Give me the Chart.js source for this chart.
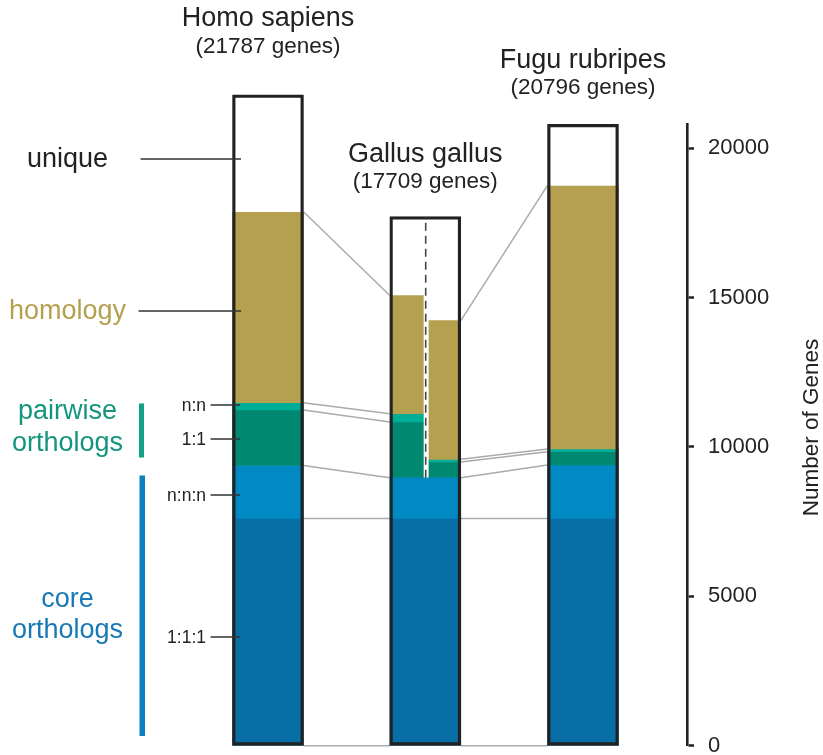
<!DOCTYPE html>
<html>
<head>
<meta charset="utf-8">
<script src="https://cdn.jsdelivr.net/npm/chart.js@4"></script>
<style>
html,body{margin:0;padding:0;background:#fff;}
canvas{display:block;}
</style>
</head>
<body>
<canvas id="genes_chart" width="823" height="755"></canvas>
<script>
//chart data
const species = ["Homo sapiens", "Gallus gallus", "Fugu rubripes"];
const total_genes = [21787, 17709, 20796];

//segments bottom to top, values are the top of each segment
const segment_names = ["1:1:1", "n:n:n", "1:1", "n:n", "homology", "unique"];
const homo_tops = [7610, 9380, 11240, 11484, 17873, 21787];
const gallus_core_tops = [7610, 8970];           //full width part of the chicken bar
const gallus_left_tops = [10840, 11116, 15069];  //1:1, n:n, homology against human
const gallus_right_tops = [9497, 9588, 14231];   //1:1, n:n, homology against fugu
const fugu_tops = [7610, 9400, 9843, 9933, 18754, 20796];

const y_ticks = [0, 5000, 10000, 15000, 20000];
const y_max = 20796;

//layout (x axis units are pixels)
const bar_x = [268, 425.3, 583];
const bar_w = 71;
const half_x = [406.7, 444.8];
const half_w = [33.3, 31.7];
const dash_x = 425.7;
const title_y = [26, 162, 68];
const sub_y = [53, 188, 94];
const side_label_y = [159, 311, 405, 439, 495, 637];

const seg_colors = ["#076fa6", "#0089c2", "#008870", "#00ad96", "#b5a04f", "#ffffff"];
const font_family = "'Liberation Sans', Arial, Helvetica, sans-serif";

Chart.defaults.font.family = font_family;
Chart.defaults.color = "#222";

const ctx = document.getElementById("genes_chart").getContext("2d");

function toRanges(tops, start) {
  let prev = start || 0;
  return tops.map(t => {
    const r = [prev, t];
    prev = t;
    return r;
  });
}

function barData(xc, tops, start) {
  return toRanges(tops, start).map(r => ({x: xc, y: r}));
}

function segDataset(xc, w, tops, start, colors) {
  return {
    type: "bar",
    data: barData(xc, tops, start),
    backgroundColor: colors,
    borderWidth: 0,
    barThickness: w,
    grouped: false,
    clip: false,
    order: 2,
  };
}

//grey lines between the bars
const homo_right = bar_x[0] + bar_w / 2;
const gallus_left = bar_x[1] - bar_w / 2;
const gallus_right = bar_x[1] + bar_w / 2;
const fugu_left = bar_x[2] - bar_w / 2;

const links = [
  [homo_right, 0, gallus_left, 0],
  [homo_right, homo_tops[0], gallus_left, gallus_core_tops[0]],
  [homo_right, homo_tops[1], gallus_left, gallus_core_tops[1]],
  [homo_right, homo_tops[2], gallus_left, gallus_left_tops[0]],
  [homo_right, homo_tops[3], gallus_left, gallus_left_tops[1]],
  [homo_right, homo_tops[4], gallus_left, gallus_left_tops[2]],
  [gallus_right, 0, fugu_left, 0],
  [gallus_right, gallus_core_tops[0], fugu_left, fugu_tops[0]],
  [gallus_right, gallus_core_tops[1], fugu_left, fugu_tops[1]],
  [gallus_right, gallus_right_tops[0], fugu_left, fugu_tops[2]],
  [gallus_right, gallus_right_tops[1], fugu_left, fugu_tops[3]],
  [gallus_right, gallus_right_tops[2], fugu_left, fugu_tops[4]],
];

const link_sets = links.map(l => ({
  type: "line",
  data: [{x: l[0], y: l[1]}, {x: l[2], y: l[3]}],
  borderColor: "#ababab",
  borderWidth: 1.5,
  pointRadius: 0,
  clip: false,
  order: 3,
}));

//text and annotations
const labels_plugin = {
  id: "labels_plugin",
  afterDraw(chart) {
    const c = chart.ctx;
    c.save();
    c.textAlign = "center";
    c.textBaseline = "alphabetic";
    c.fillStyle = "#222";
    species.forEach((name, i) => {
      c.font = "27px " + font_family;
      c.fillText(name, bar_x[i], title_y[i]);
      c.font = "22.5px " + font_family;
      c.fillText("(" + total_genes[i] + " genes)", bar_x[i], sub_y[i]);
    });

    //big left labels
    c.font = "27px " + font_family;
    c.fillStyle = "#222";
    c.fillText("unique", 67.5, side_label_y[0] + 7.5);
    c.fillStyle = "#b5a04f";
    c.fillText("homology", 67.5, side_label_y[1] + 7.5);
    c.fillStyle = "#15957e";
    c.fillText("pairwise", 67.5, 419);
    c.fillText("orthologs", 67.5, 450.5);
    c.fillStyle = "#1879b6";
    c.fillText("core", 67.5, 606.5);
    c.fillText("orthologs", 67.5, 637.5);

    //brackets
    c.fillStyle = "#12a087";
    c.fillRect(139, 403.5, 5, 54);
    c.fillStyle = "#0a80c0";
    c.fillRect(139.5, 475.5, 5.5, 260.5);

    //pointer lines
    c.strokeStyle = "#333";
    c.lineWidth = 1.3;
    c.beginPath();
    c.moveTo(140.5, side_label_y[0]); c.lineTo(241, side_label_y[0]);
    c.moveTo(138.5, side_label_y[1]); c.lineTo(241, side_label_y[1]);
    for (let k = 2; k < 6; k++) {
      c.moveTo(210.5, side_label_y[k]); c.lineTo(240, side_label_y[k]);
    }
    c.stroke();

    //small labels
    c.font = "17.5px " + font_family;
    c.fillStyle = "#222";
    c.textAlign = "right";
    const small = [segment_names[3], segment_names[2], segment_names[1], segment_names[0]];
    small.forEach((s, k) => {
      c.fillText(s, 206, side_label_y[k + 2] + 5.5);
    });

    //axis title
    c.translate(812, 427.5);
    c.rotate(-Math.PI / 2);
    c.textAlign = "center";
    c.textBaseline = "middle";
    c.font = "22.5px " + font_family;
    c.fillText("Number of Genes", 0, 0);
    c.restore();
  },
};

const my_chart = new Chart(ctx, {
  type: "bar",
  data: {
    datasets: [
      {
        type: "line",
        data: [{x: dash_x, y: gallus_core_tops[1]}, {x: dash_x, y: total_genes[1]}],
        borderColor: "#444",
        borderWidth: 1.6,
        borderDash: [8, 5],
        pointRadius: 0,
        clip: false,
        order: 0,
      },
      {
        type: "bar",
        data: total_genes.map((t, i) => ({x: bar_x[i], y: [0, t]})),
        backgroundColor: "rgba(0,0,0,0)",
        borderColor: "#222",
        borderWidth: 2.6,
        borderSkipped: false,
        barThickness: bar_w,
        grouped: false,
        clip: false,
        order: 1,
      },
      segDataset(bar_x[0], bar_w, homo_tops, 0, seg_colors),
      segDataset(bar_x[1], bar_w, gallus_core_tops, 0, seg_colors.slice(0, 2)),
      segDataset(half_x[0], half_w[0], gallus_left_tops, gallus_core_tops[1], seg_colors.slice(2, 5)),
      segDataset(half_x[1], half_w[1], gallus_right_tops, gallus_core_tops[1], seg_colors.slice(2, 5)),
      segDataset(bar_x[2], bar_w, fugu_tops, 0, seg_colors),
      ...link_sets,
    ],
  },
  options: {
    responsive: false,
    animation: false,
    events: [],
    devicePixelRatio: 1,
    layout: {
      autoPadding: false,
      padding: {top: 124.4, bottom: 9.2, left: 0, right: 0},
    },
    plugins: {
      legend: {display: false},
      tooltip: {enabled: false},
    },
    scales: {
      x: {
        type: "linear",
        display: false,
        min: 0,
        max: 687,
        offset: false,
      },
      y: {
        type: "linear",
        position: "right",
        min: 0,
        max: y_max,
        grid: {
          drawOnChartArea: false,
          drawTicks: true,
          tickLength: 7,
          tickWidth: 2.5,
          tickColor: "#222",
        },
        border: {display: true, color: "#222", width: 2.6},
        ticks: {
          padding: 14,
          color: "#222",
          font: {size: 22},
          callback: v => String(v),
        },
        afterBuildTicks: s => {
          s.ticks = y_ticks.map(v => ({value: v}));
        },
        afterFit: s => {
          s.width = 136;
          //labels may hang over the ends, keep the plot area fixed
          s.paddingTop = 0;
          s.paddingBottom = 0;
        },
      },
    },
  },
  plugins: [labels_plugin],
});
</script>
</body>
</html>
